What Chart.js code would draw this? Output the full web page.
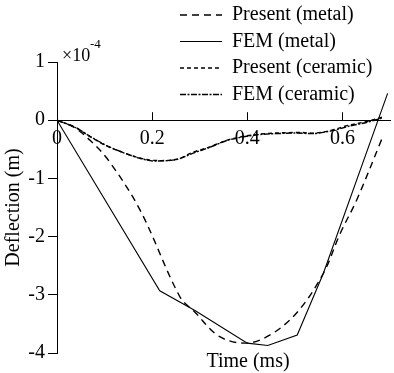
<!DOCTYPE html>
<html>
<head>
<meta charset="utf-8">
<script src="https://cdn.jsdelivr.net/npm/chart.js@4.4.0/dist/chart.umd.min.js"></script>
<style>
    body { margin: 0; background: #fff; }
</style>
</head>
<body>
<canvas id="myChart" width="394" height="373"></canvas>
<script>
// time in ms, deflection in 1e-4 m
const presentMetalT = [0, 0.035, 0.07, 0.11, 0.175, 0.258, 0.29, 0.342, 0.40, 0.45, 0.505, 0.56, 0.595, 0.63, 0.685];
const presentMetalY = [0, -0.12, -0.35, -0.71, -1.55, -3.03, -3.3, -3.72, -3.83, -3.68, -3.3, -2.63, -1.95, -1.37, -0.28];

const femMetalT = [0, 0.216, 0.29, 0.40, 0.443, 0.505, 0.56, 0.695];
const femMetalY = [0, -2.93, -3.27, -3.83, -3.87, -3.69, -2.63, 0.46];

const presentCeramicT = [0, 0.038, 0.065, 0.101, 0.137, 0.17, 0.202, 0.252, 0.286, 0.321, 0.363, 0.426, 0.506, 0.542, 0.578, 0.611, 0.647, 0.683];
const presentCeramicY = [0, -0.12, -0.26, -0.43, -0.55, -0.64, -0.69, -0.67, -0.55, -0.46, -0.33, -0.24, -0.21, -0.22, -0.17, -0.09, -0.03, 0.05];

const femCeramicT = [0, 0.04, 0.07, 0.105, 0.14, 0.172, 0.2, 0.25, 0.285, 0.32, 0.36, 0.42, 0.5, 0.54, 0.58, 0.615, 0.65, 0.685];
const femCeramicY = [0, -0.13, -0.28, -0.44, -0.56, -0.65, -0.7, -0.68, -0.57, -0.47, -0.34, -0.25, -0.22, -0.23, -0.18, -0.1, -0.04, 0.04];

const xTicks = [0, 0.2, 0.4, 0.6];
const yTicks = [1, 0, -1, -2, -3, -4];

function toPoints(ts, ys) {
    return ts.map((t, i) => ({ x: t, y: ys[i] }));
}

const serif = "'Liberation Serif', 'Times New Roman', serif";
Chart.defaults.font.family = serif;
Chart.defaults.font.size = 20;
Chart.defaults.color = '#000';

// moves the legend up into the top right corner
const legendSpot = {
    id: 'legendSpot',
    afterUpdate(chart) {
        const lg = chart.legend;
        lg.left = 173.5;
        lg.top = -1.5;
        lg.right = 394;
        lg.bottom = 200;
    }
};

// upward tick marks on the x axis, the exponent and the x title
const extras = {
    id: 'extras',
    afterDraw(chart) {
        const ctx = chart.ctx;
        const x = chart.scales.x;
        const y = chart.scales.y;
        const y0 = y.getPixelForValue(0);
        ctx.save();
        ctx.strokeStyle = '#000';
        ctx.lineWidth = 1;
        xTicks.forEach(v => {
            if (v === 0) return;
            const px = Math.round(x.getPixelForValue(v)) + 0.5;
            ctx.beginPath();
            ctx.moveTo(px, y0);
            ctx.lineTo(px, y0 - 8);
            ctx.stroke();
        });
        ctx.fillStyle = '#000';
        ctx.textBaseline = 'middle';
        ctx.textAlign = 'left';
        ctx.font = '18px ' + serif;
        ctx.fillText('×10', 62, 56);
        ctx.font = '13px ' + serif;
        ctx.fillText('-4', 90, 45);
        ctx.font = '20px ' + serif;
        ctx.textAlign = 'center';
        ctx.fillText('Time (ms)', 248, 362);
        ctx.restore();
    }
};

const ctx = document.getElementById('myChart');
const myChart = new Chart(ctx, {
    type: 'line',
    data: {
        datasets: [{
            label: 'Present (metal)',
            data: toPoints(presentMetalT, presentMetalY),
            borderColor: '#000',
            backgroundColor: '#000',
            borderWidth: 1.4,
            borderDash: [7, 5],
            tension: 0.35
        }, {
            label: 'FEM (metal)',
            data: toPoints(femMetalT, femMetalY),
            borderColor: '#000',
            backgroundColor: '#000',
            borderWidth: 1.1,
            tension: 0
        }, {
            label: 'Present (ceramic)',
            data: toPoints(presentCeramicT, presentCeramicY),
            borderColor: '#000',
            backgroundColor: '#000',
            borderWidth: 1.4,
            borderDash: [4, 3],
            tension: 0.35
        }, {
            label: 'FEM (ceramic)',
            data: toPoints(femCeramicT, femCeramicY),
            borderColor: '#000',
            backgroundColor: '#000',
            borderWidth: 1.4,
            borderDash: [6, 1.5, 2, 1.5],
            tension: 0.2
        }]
    },
    options: {
        responsive: false,
        animation: false,
        events: [],
        elements: { point: { radius: 0 } },
        layout: { padding: { top: 62, right: 4, left: 0, bottom: 20 } },
        scales: {
            x: {
                type: 'linear',
                min: 0,
                max: 0.7,
                position: { y: 0 },
                afterBuildTicks(scale) {
                    scale.ticks = xTicks.map(v => ({ value: v }));
                },
                ticks: {
                    padding: 7,
                    maxRotation: 0,
                    callback: v => v === 0 ? '0' : v.toFixed(1)
                },
                grid: { drawOnChartArea: false, drawTicks: false },
                border: { display: true, color: '#000', width: 1 }
            },
            y: {
                type: 'linear',
                min: -4,
                max: 1,
                position: 'left',
                afterFit(scale) {
                    scale.width = 57;
                },
                afterBuildTicks(scale) {
                    scale.ticks = yTicks.map(v => ({ value: v }));
                },
                ticks: {
                    padding: 3,
                    callback: v => String(v)
                },
                grid: { drawOnChartArea: false, drawTicks: true, tickLength: 9, color: '#000' },
                border: { display: true, color: '#000', width: 1 },
                title: {
                    display: true,
                    text: 'Deflection (m)',
                    padding: { top: 2, bottom: 0 }
                }
            }
        },
        plugins: {
            legend: {
                position: 'chartArea',
                align: 'start',
                labels: {
                    usePointStyle: true,
                    pointStyle: 'line',
                    pointStyleWidth: 42,
                    boxWidth: 42,
                    boxHeight: 20,
                    padding: 6.5,
                    color: '#000',
                    font: { size: 20 },
                    // point style drops the dash pattern, so take it from the datasets
                    generateLabels(chart) {
                        const items = Chart.defaults.plugins.legend.labels.generateLabels(chart);
                        items.forEach((item, i) => {
                            const ds = chart.data.datasets[i];
                            item.lineDash = ds.borderDash || [];
                            item.lineWidth = ds.borderWidth;
                            item.strokeStyle = '#000';
                            item.pointStyle = 'line';
                        });
                        return items;
                    }
                }
            },
            tooltip: { enabled: false }
        }
    },
    plugins: [legendSpot, extras]
});
</script>
</body>
</html>
